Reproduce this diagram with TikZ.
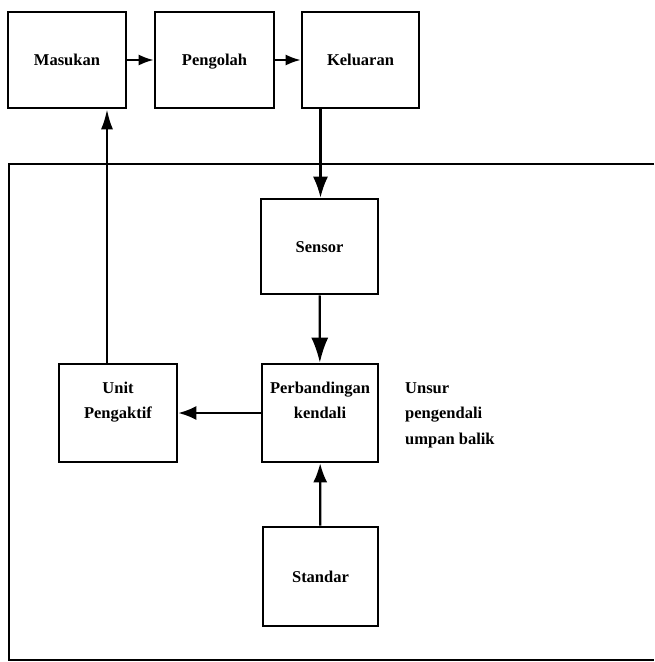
\documentclass[tikz,border=0pt]{standalone}
\usepackage{fontspec}
\setmainfont{Liberation Serif}
\usetikzlibrary{arrows.meta}
\begin{document}
\begin{tikzpicture}[x=1pt,y=-1pt,
  blok/.style={draw, line width=2.6pt, minimum width=117pt, minimum height=96pt,
    align=center, font=\fontsize{16.5}{25.5}\selectfont\bfseries, inner sep=0pt,
    text height=12pt, text depth=1pt},
  panah/.style={line width=2.2pt, -{Latex[length=15pt,width=11pt]}},
  panahbesar/.style={line width=2.2pt, -{Latex[length=21pt,width=15pt]}},
  bingkai/.style={line width=2.6pt}]
\useasboundingbox (0,0) rectangle (654,662);

% main process chain
\node[blok, minimum width=118pt] (mas) at (67,60) {Masukan};
\node[blok, minimum width=119pt] (olah) at (214.5,60) {Pengolah};
\node[blok] (kel) at (360.5,60) {Keluaran};

% feedback control element
\node[blok, minimum height=95pt] (sen) at (319.5,246.5) {Sensor};
\node[blok, minimum width=116pt, minimum height=98pt] (band) at (320,413) {Perbandingan\\kendali};
\node[blok, minimum width=118pt, minimum height=98pt] (unit) at (118,413) {Unit\\Pengaktif};
\node[blok, minimum width=115pt, minimum height=99pt] (std) at (320.5,576.5) {Standar};

\node[anchor=base west, align=left, font=\fontsize{16.5}{25.5}\selectfont\bfseries,
  inner sep=0pt] (lbl) at (405,444)
  {Unsur\\pengendali\\umpan balik};

% frame around the feedback element (open to the right)
\coordinate (fa) at (654,164);
\coordinate (fb) at (9,164);
\coordinate (fc) at (9,660);
\coordinate (fd) at (654,660);
\draw[bingkai] (fa) -- (fb) -- (fc) -- (fd);

% connectors
\draw[panah] (mas) -- (olah);
\draw[panah] (olah) -- (kel);
\draw[panahbesar] ([xshift=-40pt]kel.south) -- ([xshift=-40pt]kel.south |- sen.north);
\draw[panahbesar, -{Latex[length=25pt,width=17pt]}] (sen) -- (band);
\draw[panah, -{Latex[length=18pt,width=14pt]}] (band) -- (unit);
\draw[panahbesar, -{Latex[length=19pt,width=14pt]}] (std) -- (band);
\draw[panahbesar, -{Latex[length=20pt,width=12pt]}] ([xshift=-11pt]unit.north) -- ([xshift=-11pt]unit.north |- mas.south);
\end{tikzpicture}
\end{document}
